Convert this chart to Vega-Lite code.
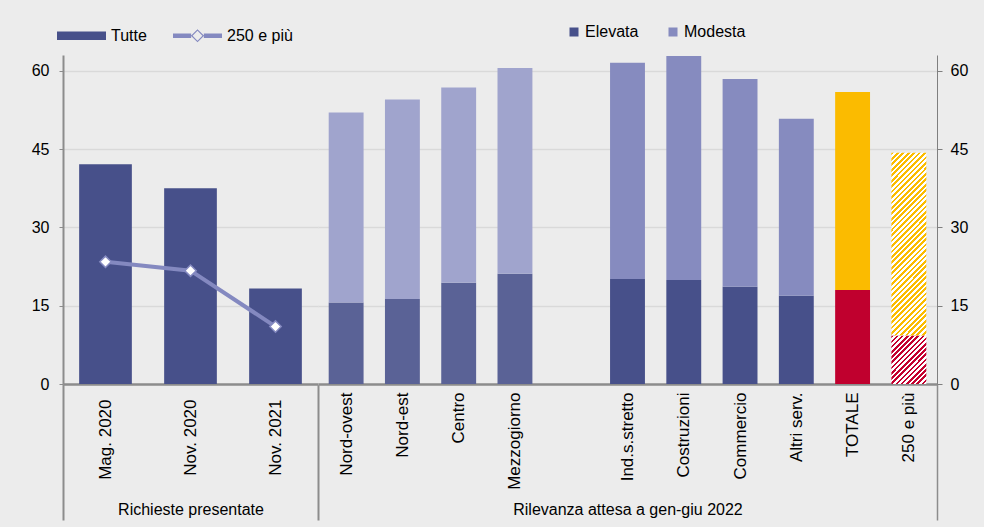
{
  "$schema": "https://vega.github.io/schema/vega-lite/v6.json",
  "background": "#ececec",
  "padding": {"left": 31, "top": 11, "right": 16, "bottom": 7},
  "spacing": 0,
  "bounds": "flush",
  "config": {
    "font": "Liberation Sans",
    "view": {"stroke": null},
    "axis": {"labelFont": "Liberation Sans", "titleFont": "Liberation Sans"},
    "legend": {"labelFont": "Liberation Sans"}
  },
  "resolve": {"scale": {"color": "independent", "y": "independent", "x": "independent"}, "legend": {"color": "independent"}},
  "hconcat": [
    {
      "width": 255,
      "height": 329,
      "data": {"values": [
        {"periodo": "Mag. 2020", "tutte": 42.1, "grandi": 23.4},
        {"periodo": "Nov. 2020", "tutte": 37.5, "grandi": 21.7},
        {"periodo": "Nov. 2021", "tutte": 18.3, "grandi": 11.0}
      ]},
      "encoding": {
        "x": {
          "field": "periodo", "type": "nominal", "sort": null,
          "scale": {"paddingInner": 0, "paddingOuter": 0},
          "axis": {
            "title": "Richieste presentate", "titleFontSize": 16, "titleFontWeight": "normal", "titleColor": "#000",
            "titleY": 130, "titleBaseline": "alphabetic",
            "labelAngle": -90, "labelAlign": "right", "labelBaseline": "middle", "labelFontSize": 17, "labelColor": "#000",
            "labelPadding": -121,
            "tickBand": "extent", "tickSize": 136, "tickWidth": 2, "tickColor": "#8c8c8c",
            "tickOpacity": {"condition": {"test": "datum.index < 0 || datum.value === 'Nov. 2021'", "value": 1}, "value": 0},
            "domainColor": "#8c8c8c", "domainWidth": 2.5, "grid": false
          }
        }
      },
      "layer": [
        {
          "mark": {"type": "bar", "width": {"band": 0.62}},
          "encoding": {
            "y": {
              "field": "tutte", "type": "quantitative", "title": null,
              "scale": {"domain": [0, 63], "nice": false},
              "axis": {"values": [0, 15, 30, 45, 60], "orient": "left", "grid": true, "gridColor": "#d9d9d9", "gridWidth": 1.5,
                "domainColor": "#8c8c8c", "domainWidth": 2, "tickColor": "#8c8c8c", "tickSize": 4, "labelPadding": 10,
                "labelFontSize": 16, "labelColor": "#000"}
            },
            "color": {
              "datum": "Tutte",
              "scale": {"domain": ["Tutte", "250 e più"], "range": ["#47508a", "#8489c0"]},
              "legend": {
                "orient": "none", "legendX": -6, "legendY": -44, "direction": "horizontal", "title": null,
                "labelFontSize": 16, "labelColor": "#000", "labelOffset": 5, "columnPadding": 26,
                "symbolSize": 2401, "padding": 0,
                "encode": {"symbols": {"update": {
                  "shape": {"signal": "datum.value === 'Tutte' ? 'M-1,-0.17H1V0.17H-1Z' : 'M-1,-0.09H-0.26V0.09H-1Z M0.26,-0.09H1V0.09H0.26Z M0,-0.27L0.27,0L0,0.27L-0.27,0Z M0,-0.2L-0.2,0L0,0.2L0.2,0Z'"},
                  "fill": {"signal": "datum.value === 'Tutte' ? '#47508a' : '#8489c0'"},
                  "stroke": {"value": "transparent"},
                  "strokeWidth": {"value": 0},
                  "size": {"value": 2401},
                  "opacity": {"value": 1}
                }}}
              }
            }
          }
        },
        {
          "mark": {"type": "line", "strokeWidth": 4},
          "encoding": {
            "y": {"field": "grandi", "type": "quantitative", "title": null, "scale": {"domain": [0, 63], "nice": false}},
            "color": {"datum": "250 e più"}
          }
        },
        {
          "mark": {"type": "point", "shape": "diamond", "filled": true, "fill": "#ffffff", "stroke": "#8489c0", "strokeWidth": 1.5, "size": 130, "opacity": 1},
          "encoding": {
            "y": {"field": "grandi", "type": "quantitative", "title": null, "scale": {"domain": [0, 63], "nice": false}}
          }
        }
      ]
    },
    {
      "width": 619,
      "height": 329,
      "data": {"values": [
        {"cat": "Nord-ovest", "livello": "Elevata", "val": 15.6},
        {"cat": "Nord-ovest", "livello": "Modesta", "val": 36.4},
        {"cat": "Nord-est", "livello": "Elevata", "val": 16.3},
        {"cat": "Nord-est", "livello": "Modesta", "val": 38.2},
        {"cat": "Centro", "livello": "Elevata", "val": 19.4},
        {"cat": "Centro", "livello": "Modesta", "val": 37.4},
        {"cat": "Mezzogiorno", "livello": "Elevata", "val": 21.1},
        {"cat": "Mezzogiorno", "livello": "Modesta", "val": 39.4},
        {"cat": "Ind.s.stretto", "livello": "Elevata", "val": 20.1},
        {"cat": "Ind.s.stretto", "livello": "Modesta", "val": 41.4},
        {"cat": "Costruzioni", "livello": "Elevata", "val": 19.9},
        {"cat": "Costruzioni", "livello": "Modesta", "val": 42.9},
        {"cat": "Commercio", "livello": "Elevata", "val": 18.6},
        {"cat": "Commercio", "livello": "Modesta", "val": 39.8},
        {"cat": "Altri serv.", "livello": "Elevata", "val": 16.9},
        {"cat": "Altri serv.", "livello": "Modesta", "val": 33.9},
        {"cat": "TOTALE", "livello": "Elevata", "val": 18.0},
        {"cat": "TOTALE", "livello": "Modesta", "val": 37.9},
        {"cat": "250 e più", "livello": "Elevata", "val": 9.3},
        {"cat": "250 e più", "livello": "Modesta", "val": 35.0}
      ]},
      "transform": [
        {"stack": "val", "groupby": ["cat"], "sort": [{"field": "livello", "order": "ascending"}], "as": ["v0", "v1"]}
      ],
      "encoding": {
        "x": {
          "field": "cat", "type": "nominal",
          "scale": {"domain": ["Nord-ovest", "Nord-est", "Centro", "Mezzogiorno", " ", "Ind.s.stretto", "Costruzioni", "Commercio", "Altri serv.", "TOTALE", "250 e più"], "paddingInner": 0, "paddingOuter": 0},
          "axis": {
            "title": "Rilevanza attesa a gen-giu 2022", "titleFontSize": 16, "titleFontWeight": "normal", "titleColor": "#000",
            "titleY": 130, "titleBaseline": "alphabetic",
            "labelAngle": -90, "labelAlign": "right", "labelBaseline": "middle", "labelFontSize": 17, "labelColor": "#000",
            "labelPadding": -128,
            "tickBand": "extent", "tickSize": 136, "tickWidth": 1.5, "tickColor": "#8c8c8c",
            "tickOpacity": {"condition": {"test": "datum.value === '250 e più'", "value": 1}, "value": 0},
            "domainColor": "#8c8c8c", "domainWidth": 2.5, "grid": false
          }
        },
        "y": {
          "field": "v1", "type": "quantitative", "title": null,
          "scale": {"domain": [0, 63], "nice": false},
          "axis": {"values": [0, 15, 30, 45, 60], "orient": "right", "grid": true, "gridColor": "#d9d9d9", "gridWidth": 1.5,
            "domainColor": "#7f7f7f", "domainWidth": 1, "tickColor": "#7f7f7f", "tickSize": 5, "labelPadding": 8,
            "labelFontSize": 16, "labelColor": "#000"}
        },
        "y2": {"field": "v0"}
      },
      "layer": [
        {
          "transform": [{"filter": {"field": "cat", "oneOf": ["Ind.s.stretto", "Costruzioni", "Commercio", "Altri serv."]}}],
          "mark": {"type": "bar", "width": {"band": 0.62}},
          "encoding": {
            "color": {
              "field": "livello", "type": "nominal",
              "scale": {"domain": ["Elevata", "Modesta"], "range": ["#47508a", "#868bbf"]},
              "legend": {"orient": "none", "legendX": 248, "legendY": -31, "direction": "horizontal", "title": null,
                "labelFontSize": 16, "labelColor": "#000", "labelOffset": 3, "columnPadding": 26,
                "symbolType": "square", "symbolSize": 81, "symbolStrokeWidth": 0, "symbolOpacity": 1, "padding": 0}
            }
          }
        },
        {
          "transform": [{"filter": {"field": "cat", "oneOf": ["Nord-ovest", "Nord-est", "Centro", "Mezzogiorno"]}}],
          "mark": {"type": "bar", "width": {"band": 0.62}},
          "encoding": {
            "color": {"condition": {"test": "datum.livello === 'Elevata'", "value": "#5a6296"}, "value": "#a0a4cd"}
          }
        },
        {
          "transform": [{"filter": "datum.cat === 'TOTALE'"}],
          "mark": {"type": "bar", "width": {"band": 0.62}},
          "encoding": {
            "color": {"condition": {"test": "datum.livello === 'Elevata'", "value": "#c0002e"}, "value": "#fbbb00"}
          }
        },
        {
          "transform": [{"filter": "datum.cat === '250 e più' && datum.livello === 'Elevata'"}],
          "mark": {"type": "bar", "width": {"band": 0.62},
            "color": {"gradient": "linear", "x1": 0, "y1": 0, "x2": 0.8157, "y2": 1.1327, "stops": [
              {"offset": 0, "color": "#c4002f"}, {"offset": 0.03125, "color": "#c4002f"}, {"offset": 0.03125, "color": "#ffffff"}, {"offset": 0.0625, "color": "#ffffff"},
              {"offset": 0.0625, "color": "#c4002f"}, {"offset": 0.09375, "color": "#c4002f"}, {"offset": 0.09375, "color": "#ffffff"}, {"offset": 0.125, "color": "#ffffff"},
              {"offset": 0.125, "color": "#c4002f"}, {"offset": 0.15625, "color": "#c4002f"}, {"offset": 0.15625, "color": "#ffffff"}, {"offset": 0.1875, "color": "#ffffff"},
              {"offset": 0.1875, "color": "#c4002f"}, {"offset": 0.21875, "color": "#c4002f"}, {"offset": 0.21875, "color": "#ffffff"}, {"offset": 0.25, "color": "#ffffff"},
              {"offset": 0.25, "color": "#c4002f"}, {"offset": 0.28125, "color": "#c4002f"}, {"offset": 0.28125, "color": "#ffffff"}, {"offset": 0.3125, "color": "#ffffff"},
              {"offset": 0.3125, "color": "#c4002f"}, {"offset": 0.34375, "color": "#c4002f"}, {"offset": 0.34375, "color": "#ffffff"}, {"offset": 0.375, "color": "#ffffff"},
              {"offset": 0.375, "color": "#c4002f"}, {"offset": 0.40625, "color": "#c4002f"}, {"offset": 0.40625, "color": "#ffffff"}, {"offset": 0.4375, "color": "#ffffff"},
              {"offset": 0.4375, "color": "#c4002f"}, {"offset": 0.46875, "color": "#c4002f"}, {"offset": 0.46875, "color": "#ffffff"}, {"offset": 0.5, "color": "#ffffff"},
              {"offset": 0.5, "color": "#c4002f"}, {"offset": 0.53125, "color": "#c4002f"}, {"offset": 0.53125, "color": "#ffffff"}, {"offset": 0.5625, "color": "#ffffff"},
              {"offset": 0.5625, "color": "#c4002f"}, {"offset": 0.59375, "color": "#c4002f"}, {"offset": 0.59375, "color": "#ffffff"}, {"offset": 0.625, "color": "#ffffff"},
              {"offset": 0.625, "color": "#c4002f"}, {"offset": 0.65625, "color": "#c4002f"}, {"offset": 0.65625, "color": "#ffffff"}, {"offset": 0.6875, "color": "#ffffff"},
              {"offset": 0.6875, "color": "#c4002f"}, {"offset": 0.71875, "color": "#c4002f"}, {"offset": 0.71875, "color": "#ffffff"}, {"offset": 0.75, "color": "#ffffff"},
              {"offset": 0.75, "color": "#c4002f"}, {"offset": 0.78125, "color": "#c4002f"}, {"offset": 0.78125, "color": "#ffffff"}, {"offset": 0.8125, "color": "#ffffff"},
              {"offset": 0.8125, "color": "#c4002f"}, {"offset": 0.84375, "color": "#c4002f"}, {"offset": 0.84375, "color": "#ffffff"}, {"offset": 0.875, "color": "#ffffff"},
              {"offset": 0.875, "color": "#c4002f"}, {"offset": 0.90625, "color": "#c4002f"}, {"offset": 0.90625, "color": "#ffffff"}, {"offset": 0.9375, "color": "#ffffff"},
              {"offset": 0.9375, "color": "#c4002f"}, {"offset": 0.96875, "color": "#c4002f"}, {"offset": 0.96875, "color": "#ffffff"}, {"offset": 1, "color": "#ffffff"}
            ]}
          }
        },
        {
          "transform": [{"filter": "datum.cat === '250 e più' && datum.livello === 'Modesta'"}],
          "mark": {"type": "bar", "width": {"band": 0.62},
            "color": {"gradient": "linear", "x1": 0, "y1": 0, "x2": 0.2198, "y2": 1.1492, "stops": [
              {"offset": 0, "color": "#fbbc00"}, {"offset": 0.0125, "color": "#fbbc00"}, {"offset": 0.0125, "color": "#ffffff"}, {"offset": 0.025, "color": "#ffffff"},
              {"offset": 0.025, "color": "#fbbc00"}, {"offset": 0.0375, "color": "#fbbc00"}, {"offset": 0.0375, "color": "#ffffff"}, {"offset": 0.05, "color": "#ffffff"},
              {"offset": 0.05, "color": "#fbbc00"}, {"offset": 0.0625, "color": "#fbbc00"}, {"offset": 0.0625, "color": "#ffffff"}, {"offset": 0.075, "color": "#ffffff"},
              {"offset": 0.075, "color": "#fbbc00"}, {"offset": 0.0875, "color": "#fbbc00"}, {"offset": 0.0875, "color": "#ffffff"}, {"offset": 0.1, "color": "#ffffff"},
              {"offset": 0.1, "color": "#fbbc00"}, {"offset": 0.1125, "color": "#fbbc00"}, {"offset": 0.1125, "color": "#ffffff"}, {"offset": 0.125, "color": "#ffffff"},
              {"offset": 0.125, "color": "#fbbc00"}, {"offset": 0.1375, "color": "#fbbc00"}, {"offset": 0.1375, "color": "#ffffff"}, {"offset": 0.15, "color": "#ffffff"},
              {"offset": 0.15, "color": "#fbbc00"}, {"offset": 0.1625, "color": "#fbbc00"}, {"offset": 0.1625, "color": "#ffffff"}, {"offset": 0.175, "color": "#ffffff"},
              {"offset": 0.175, "color": "#fbbc00"}, {"offset": 0.1875, "color": "#fbbc00"}, {"offset": 0.1875, "color": "#ffffff"}, {"offset": 0.2, "color": "#ffffff"},
              {"offset": 0.2, "color": "#fbbc00"}, {"offset": 0.2125, "color": "#fbbc00"}, {"offset": 0.2125, "color": "#ffffff"}, {"offset": 0.225, "color": "#ffffff"},
              {"offset": 0.225, "color": "#fbbc00"}, {"offset": 0.2375, "color": "#fbbc00"}, {"offset": 0.2375, "color": "#ffffff"}, {"offset": 0.25, "color": "#ffffff"},
              {"offset": 0.25, "color": "#fbbc00"}, {"offset": 0.2625, "color": "#fbbc00"}, {"offset": 0.2625, "color": "#ffffff"}, {"offset": 0.275, "color": "#ffffff"},
              {"offset": 0.275, "color": "#fbbc00"}, {"offset": 0.2875, "color": "#fbbc00"}, {"offset": 0.2875, "color": "#ffffff"}, {"offset": 0.3, "color": "#ffffff"},
              {"offset": 0.3, "color": "#fbbc00"}, {"offset": 0.3125, "color": "#fbbc00"}, {"offset": 0.3125, "color": "#ffffff"}, {"offset": 0.325, "color": "#ffffff"},
              {"offset": 0.325, "color": "#fbbc00"}, {"offset": 0.3375, "color": "#fbbc00"}, {"offset": 0.3375, "color": "#ffffff"}, {"offset": 0.35, "color": "#ffffff"},
              {"offset": 0.35, "color": "#fbbc00"}, {"offset": 0.3625, "color": "#fbbc00"}, {"offset": 0.3625, "color": "#ffffff"}, {"offset": 0.375, "color": "#ffffff"},
              {"offset": 0.375, "color": "#fbbc00"}, {"offset": 0.3875, "color": "#fbbc00"}, {"offset": 0.3875, "color": "#ffffff"}, {"offset": 0.4, "color": "#ffffff"},
              {"offset": 0.4, "color": "#fbbc00"}, {"offset": 0.4125, "color": "#fbbc00"}, {"offset": 0.4125, "color": "#ffffff"}, {"offset": 0.425, "color": "#ffffff"},
              {"offset": 0.425, "color": "#fbbc00"}, {"offset": 0.4375, "color": "#fbbc00"}, {"offset": 0.4375, "color": "#ffffff"}, {"offset": 0.45, "color": "#ffffff"},
              {"offset": 0.45, "color": "#fbbc00"}, {"offset": 0.4625, "color": "#fbbc00"}, {"offset": 0.4625, "color": "#ffffff"}, {"offset": 0.475, "color": "#ffffff"},
              {"offset": 0.475, "color": "#fbbc00"}, {"offset": 0.4875, "color": "#fbbc00"}, {"offset": 0.4875, "color": "#ffffff"}, {"offset": 0.5, "color": "#ffffff"},
              {"offset": 0.5, "color": "#fbbc00"}, {"offset": 0.5125, "color": "#fbbc00"}, {"offset": 0.5125, "color": "#ffffff"}, {"offset": 0.525, "color": "#ffffff"},
              {"offset": 0.525, "color": "#fbbc00"}, {"offset": 0.5375, "color": "#fbbc00"}, {"offset": 0.5375, "color": "#ffffff"}, {"offset": 0.55, "color": "#ffffff"},
              {"offset": 0.55, "color": "#fbbc00"}, {"offset": 0.5625, "color": "#fbbc00"}, {"offset": 0.5625, "color": "#ffffff"}, {"offset": 0.575, "color": "#ffffff"},
              {"offset": 0.575, "color": "#fbbc00"}, {"offset": 0.5875, "color": "#fbbc00"}, {"offset": 0.5875, "color": "#ffffff"}, {"offset": 0.6, "color": "#ffffff"},
              {"offset": 0.6, "color": "#fbbc00"}, {"offset": 0.6125, "color": "#fbbc00"}, {"offset": 0.6125, "color": "#ffffff"}, {"offset": 0.625, "color": "#ffffff"},
              {"offset": 0.625, "color": "#fbbc00"}, {"offset": 0.6375, "color": "#fbbc00"}, {"offset": 0.6375, "color": "#ffffff"}, {"offset": 0.65, "color": "#ffffff"},
              {"offset": 0.65, "color": "#fbbc00"}, {"offset": 0.6625, "color": "#fbbc00"}, {"offset": 0.6625, "color": "#ffffff"}, {"offset": 0.675, "color": "#ffffff"},
              {"offset": 0.675, "color": "#fbbc00"}, {"offset": 0.6875, "color": "#fbbc00"}, {"offset": 0.6875, "color": "#ffffff"}, {"offset": 0.7, "color": "#ffffff"},
              {"offset": 0.7, "color": "#fbbc00"}, {"offset": 0.7125, "color": "#fbbc00"}, {"offset": 0.7125, "color": "#ffffff"}, {"offset": 0.725, "color": "#ffffff"},
              {"offset": 0.725, "color": "#fbbc00"}, {"offset": 0.7375, "color": "#fbbc00"}, {"offset": 0.7375, "color": "#ffffff"}, {"offset": 0.75, "color": "#ffffff"},
              {"offset": 0.75, "color": "#fbbc00"}, {"offset": 0.7625, "color": "#fbbc00"}, {"offset": 0.7625, "color": "#ffffff"}, {"offset": 0.775, "color": "#ffffff"},
              {"offset": 0.775, "color": "#fbbc00"}, {"offset": 0.7875, "color": "#fbbc00"}, {"offset": 0.7875, "color": "#ffffff"}, {"offset": 0.8, "color": "#ffffff"},
              {"offset": 0.8, "color": "#fbbc00"}, {"offset": 0.8125, "color": "#fbbc00"}, {"offset": 0.8125, "color": "#ffffff"}, {"offset": 0.825, "color": "#ffffff"},
              {"offset": 0.825, "color": "#fbbc00"}, {"offset": 0.8375, "color": "#fbbc00"}, {"offset": 0.8375, "color": "#ffffff"}, {"offset": 0.85, "color": "#ffffff"},
              {"offset": 0.85, "color": "#fbbc00"}, {"offset": 0.8625, "color": "#fbbc00"}, {"offset": 0.8625, "color": "#ffffff"}, {"offset": 0.875, "color": "#ffffff"},
              {"offset": 0.875, "color": "#fbbc00"}, {"offset": 0.8875, "color": "#fbbc00"}, {"offset": 0.8875, "color": "#ffffff"}, {"offset": 0.9, "color": "#ffffff"},
              {"offset": 0.9, "color": "#fbbc00"}, {"offset": 0.9125, "color": "#fbbc00"}, {"offset": 0.9125, "color": "#ffffff"}, {"offset": 0.925, "color": "#ffffff"},
              {"offset": 0.925, "color": "#fbbc00"}, {"offset": 0.9375, "color": "#fbbc00"}, {"offset": 0.9375, "color": "#ffffff"}, {"offset": 0.95, "color": "#ffffff"},
              {"offset": 0.95, "color": "#fbbc00"}, {"offset": 0.9625, "color": "#fbbc00"}, {"offset": 0.9625, "color": "#ffffff"}, {"offset": 0.975, "color": "#ffffff"},
              {"offset": 0.975, "color": "#fbbc00"}, {"offset": 0.9875, "color": "#fbbc00"}, {"offset": 0.9875, "color": "#ffffff"}, {"offset": 1, "color": "#ffffff"}
            ]}
          }
        }
      ]
    }
  ]
}
